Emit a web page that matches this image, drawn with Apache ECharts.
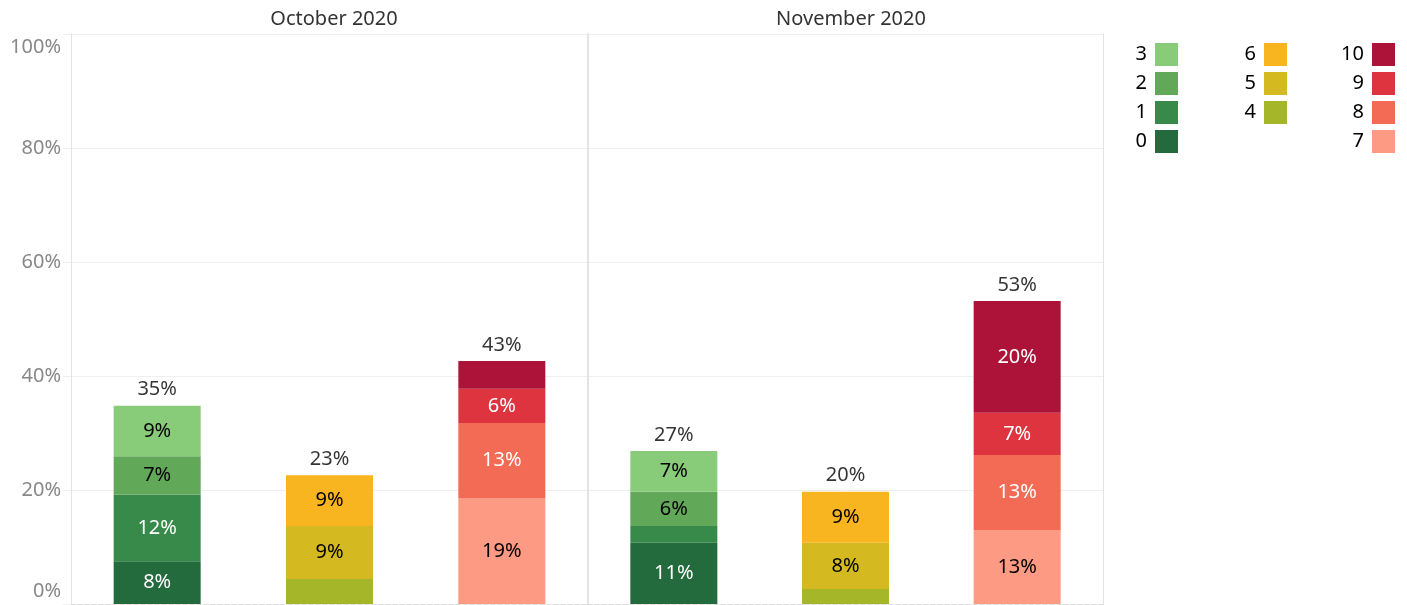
<!DOCTYPE html>
<html>
<head>
<meta charset="utf-8">
<script src="https://cdn.jsdelivr.net/npm/echarts@6/dist/echarts.min.js"></script>
<style>
html,body{margin:0;padding:0;background:#fff;}
#chart{width:1407px;height:605px;}
</style>
</head>
<body>
<div id="chart"></div>
<script>
// ---- data ----
const months = ['October 2020', 'November 2020'];
const groups = ['0-3', '4-6', '7-10'];
const scores = ['0','1','2','3','4','5','6','7','8','9','10'];
const scoreGroup = [0,0,0,0,1,1,1,2,2,2,2];
const octValues = [7.5, 11.7, 6.7, 8.9, 4.4, 9.3, 8.9, 18.5, 13.25, 6.0, 4.9];
const novValues = [10.75, 2.95, 6.0, 7.15, 2.65, 8.1, 8.95, 13.0, 13.15, 7.4, 19.6];
const yTicks = [0, 20, 40, 60, 80, 100];
const colors = ['#236a3d','#378a4a','#62a859','#88cb79','#a5b629','#d5b920','#f9b51f','#fc9a83','#f36a55','#dd3440','#ad1238'];
const whiteText = ['0','1','8','9','10'];
const legendCols = [['3','2','1','0'], ['6','5','4'], ['10','9','8','7']];

const monthValues = [octValues, novValues];
const FONT = '"Noto Sans", "Open Sans", sans-serif';

const grids = [
  {left: 71, width: 517, top: 34, bottom: 1},
  {left: 588, width: 515, top: 34, bottom: 1}
];

const xAxes = grids.map((g, i) => ({
  type: 'category', gridIndex: i, data: groups,
  axisLabel: {show: false}, axisTick: {show: false},
  axisLine: {show: true, lineStyle: {color: '#dcdcdc', type: [4, 3], width: 1}},
  splitLine: {show: false}
}));

const yAxes = [
  {
    type: 'value', gridIndex: 0, min: yTicks[0], max: yTicks[yTicks.length - 1], interval: 20,
    axisLabel: {
      formatter: '{value}%', color: '#888888', fontSize: 20, fontFamily: FONT, margin: 10,
      lineHeight: 26,
      verticalAlignMinLabel: 'bottom', verticalAlignMaxLabel: 'top'
    },
    axisTick: {show: true, length: 8, lineStyle: {color: '#efefef'}},
    axisLine: {show: true, lineStyle: {color: '#e3e3e3', width: 1}},
    splitLine: {show: true, lineStyle: {color: '#efefef', width: 1}}
  },
  {
    type: 'value', gridIndex: 1, min: 0, max: 100, interval: 20,
    axisLabel: {show: false}, axisTick: {show: false},
    axisLine: {show: true, lineStyle: {color: '#e3e3e3', width: 2}},
    splitLine: {show: true, lineStyle: {color: '#efefef', width: 1}}
  },
  {
    type: 'value', gridIndex: 1, position: 'right', min: 0, max: 100, interval: 20,
    axisLabel: {show: false}, axisTick: {show: false},
    axisLine: {show: true, lineStyle: {color: '#e3e3e3', width: 1}},
    splitLine: {show: false}
  }
];

const series = [];
monthValues.forEach((vals, m) => {
  scores.forEach((s, k) => {
    const data = groups.map((g, gi) => gi === scoreGroup[k] ? vals[k] : '-');
    series.push({
      name: s, type: 'bar', stack: 'm' + m, xAxisIndex: m, yAxisIndex: m,
      barWidth: 87, data: data,
      itemStyle: {color: colors[k]},
      label: {
        show: true, position: 'inside', fontSize: 20, fontFamily: FONT,
        color: whiteText.includes(s) ? '#ffffff' : '#000000',
        formatter: p => (p.value >= 5 ? Math.round(p.value) + '%' : '')
      },
      emphasis: {disabled: true}
    });
  });
  const totals = groups.map((g, gi) => {
    let t = 0;
    scores.forEach((s, k) => { if (scoreGroup[k] === gi) t += vals[k]; });
    return t;
  });
  series.push({
    name: 'total' + m, type: 'scatter', xAxisIndex: m, yAxisIndex: m,
    symbolSize: 0, data: totals, silent: true,
    label: {
      show: true, position: 'top', distance: 6, fontSize: 20, fontFamily: FONT, color: '#000000',
      formatter: p => Math.round(p.value) + '%'
    }
  });
});

const legends = legendCols.map((col, i) => ({
  data: col, orient: 'vertical', right: [229, 120, 12][i], top: 43,
  itemWidth: 23, itemHeight: 23, itemGap: 6, align: 'right', padding: 0,
  icon: 'rect', selectedMode: false,
  textStyle: {fontSize: 20, color: '#000000', fontFamily: FONT, padding: [0, 3, 0, 0]}
}));

const titles = months.map((mn, i) => ({
  text: mn, left: i === 0 ? 329 : 846, top: 4, textAlign: 'center',
  textStyle: {fontSize: 20, fontWeight: 'normal', color: '#333333', fontFamily: FONT}
}));

const chart = echarts.init(document.getElementById('chart'), null, {renderer: 'canvas'});
chart.setOption({
  animation: false,
  title: titles,
  legend: legends,
  grid: grids,
  xAxis: xAxes,
  yAxis: yAxes,
  series: series
});
</script>
</body>
</html>
